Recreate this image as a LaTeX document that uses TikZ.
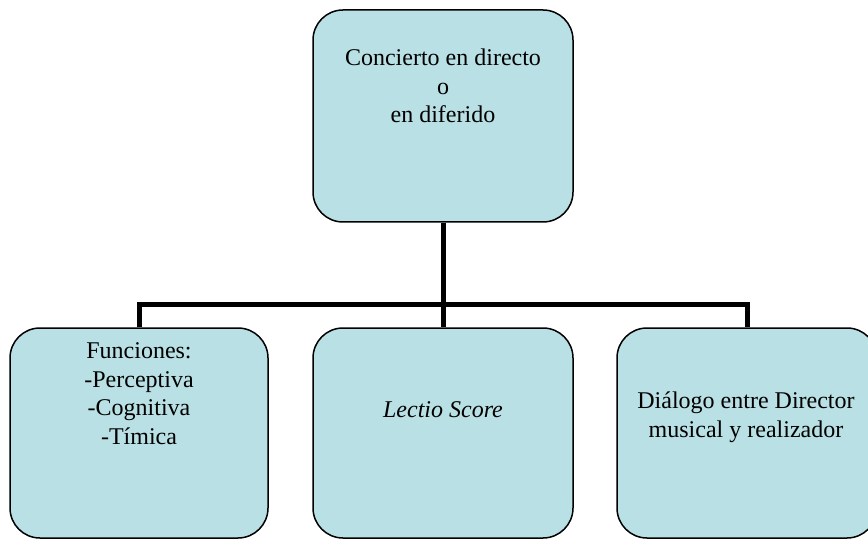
\documentclass[tikz,border=0pt]{standalone}
\usepackage{fontspec}
\setmainfont{Liberation Serif}
\usetikzlibrary{backgrounds}
\definecolor{boxfill}{RGB}{185,224,228}
\begin{document}
\begin{tikzpicture}[x=1pt,y=-1pt,
  box/.style={draw=black, line width=1.5pt, fill=boxfill, rounded corners=30pt,
    minimum width=260pt, minimum height=210pt, inner sep=0pt},
  conn/.style={draw=black, line width=5pt, line join=miter},
  txt/.style={align=center, inner sep=0pt, anchor=base,
    font=\fontsize{24}{28.5}\selectfont}]
\useasboundingbox (0,0) rectangle (868,540);
% boxes
\node[box, minimum height=212pt] (top) at (443,116) {};
\node[box, minimum width=258pt] (left) at (139,433) {};
\node[box] (mid) at (443,433) {};
\node[box] (right) at (747,433) {};
% texts (anchor base = baseline of last line)
\node[txt] (toptext) at (443,123) {Concierto en directo\\o\\en diferido};
\node[txt] (lefttext) at (139,444) {Funciones:\\-Perceptiva\\-Cognitiva\\-Tímica};
\node[txt] (midtext) at (443,417) {\itshape Lectio Score};
\node[txt] (righttext) at (746,437) {Diálogo entre Director\\musical y realizador};
% connectors (behind the boxes)
\coordinate (hub) at (443,305);
\begin{pgfonlayer}{background}
\draw[conn] (top.south) -- (mid.north);
\draw[conn] (left.north) |- (hub) -| (right.north);
\end{pgfonlayer}
\end{tikzpicture}
\end{document}
